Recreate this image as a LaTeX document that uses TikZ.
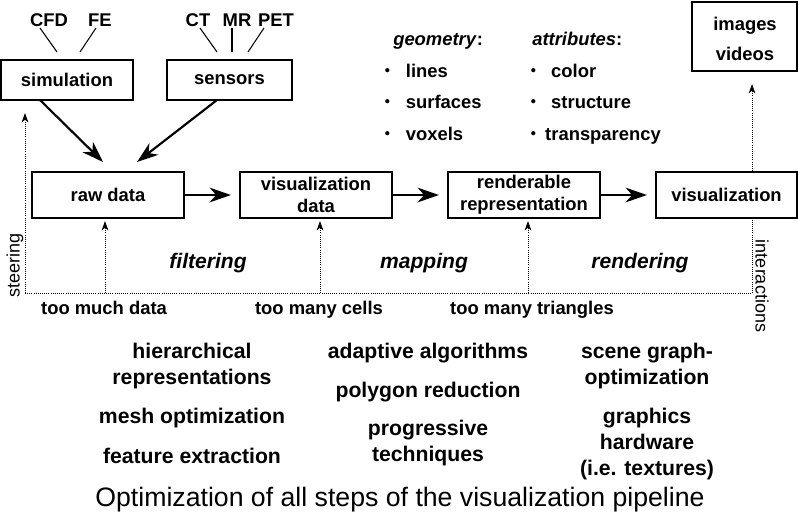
\documentclass[tikz,border=0pt]{standalone}
\usepackage{fontspec}
\setmainfont{Liberation Sans}
\usetikzlibrary{arrows.meta,calc}
\newcommand{\smallbul}{\raisebox{0.8pt}{\fontsize{11}{11}\selectfont •}}
\begin{document}
\begin{tikzpicture}[x=0.75pt,y=-0.75pt,
  box/.style={draw, line width=1.6pt, inner sep=0pt, font=\fontsize{13.8}{16.5}\selectfont\bfseries, align=center},
  lbl/.style={font=\fontsize{13.8}{16.5}\selectfont\bfseries, inner sep=0pt},
  stage/.style={font=\fontsize{15.8}{19}\selectfont\bfseries\itshape, inner sep=0pt},
  opt/.style={font=\fontsize{15.9}{19.5}\selectfont\bfseries, align=center, inner sep=0pt},
  side/.style={font=\fontsize{13.5}{16}\selectfont, inner sep=0pt},
  thin/.style={line width=0.8pt},
  big/.style={line width=1.6pt, -{Stealth[length=16pt,width=11pt,inset=5pt]}},
  dots/.style={line width=0.6pt, densely dotted},
  dotarrow/.style={dots, -{Stealth[length=7pt,width=5pt,inset=2pt]}}
]
\useasboundingbox (0,0) rectangle (798,512);

% boxes
\node[box, minimum width={132*0.75pt}, minimum height={40*0.75pt}] (sim) at (67,80) {simulation};
\node[box, minimum width={125*0.75pt}, minimum height={40*0.75pt}] (sens) at (229.5,80) {sensors};
\node[box, minimum width={152*0.75pt}, minimum height={46*0.75pt}] (raw) at (108,195) {raw data};
\node[box, minimum width={152*0.75pt}, minimum height={46*0.75pt}] (vdata) at (316,195) {visualization\\data};
\node[box, minimum width={152*0.75pt}, minimum height={46*0.75pt}] (rend) at (524,195) {renderable\\representation};
\node[box, minimum width={141*0.75pt}, minimum height={46*0.75pt}] (vis) at (726.5,195) {visualization};
\node[box, minimum width={105*0.75pt}, minimum height={69*0.75pt}] (img) at (744.5,36.5) {};
\node[lbl, anchor=base] (images) at (745,30) {images};
\node[lbl, anchor=base] (videos) at (745,60) {videos};

% sources
\node[lbl] (cfd) at (49,20) {CFD};
\node[lbl] (fe) at (100,20) {FE};
\node[lbl] (ct) at (198,20) {CT};
\node[lbl] (mr) at (237,20) {MR};
\node[lbl] (pet) at (276,20) {PET};
\coordinate (cfdA) at (40,28); \coordinate (cfdB) at (57,52);
\coordinate (feA) at (96,28); \coordinate (feB) at (80,52);
\coordinate (ctA) at (200,28); \coordinate (ctB) at (217,52);
\coordinate (mrA) at (232,28); \coordinate (mrB) at (232,52);
\coordinate (petA) at (264,28); \coordinate (petB) at (248,52);
\draw[thin] (cfdA) -- (cfdB);
\draw[thin] (feA) -- (feB);
\draw[thin] (ctA) -- (ctB);
\draw[thin] (mrA) -- (mrB);
\draw[thin] (petA) -- (petB);

% main arrows
\coordinate (simOut) at (40,100);
\coordinate (sensOut) at (217,100);
\coordinate (rawInL) at (103,162);
\coordinate (rawInR) at (137,162);
\draw[big] (simOut) -- (rawInL);
\draw[big] (sensOut) -- (rawInR);
\draw[big, shorten >=6pt] (raw) -- (vdata);
\draw[big, shorten >=6pt] (vdata) -- (rend);
\draw[big, shorten >=6pt] (rend) -- (vis);

% dotted feedback lines
\coordinate (bl) at (25,293);
\coordinate (br) at (752,293);
\draw[dotarrow, shorten >=9pt] (bl) -- (bl |- sim.south);
\draw[dots] (bl) -- (br);
\draw[dots] (br) -- (br |- vis.south);
\draw[dotarrow, shorten >=9pt] (br |- vis.north) -- (br |- img.south);
\coordinate (f1) at (105,293);
\coordinate (f2) at (320,293);
\coordinate (f3) at (528,293);
\draw[dotarrow, shorten >=1.5pt] (f1) -- (f1 |- raw.south);
\draw[dotarrow, shorten >=1.5pt] (f2) -- (f2 |- vdata.south);
\draw[dotarrow, shorten >=1.5pt] (f3) -- (f3 |- rend.south);

\node[side, rotate=90] (steer) at (15,265) {steering};
\node[side, rotate=-90] (inter) at (762,286) {interactions};

% stages
\node[stage] (filt) at (208,263) {filtering};
\node[stage] (mapp) at (424,263) {mapping};
\node[stage] (rendg) at (640,263) {rendering};

\node[lbl, anchor=base] (tm1) at (104,314) {too much data};
\node[lbl, anchor=base] (tm2) at (319,314) {too many cells};
\node[lbl, anchor=base] (tm3) at (532,314) {too many triangles};

% geometry / attributes
\node[lbl, anchor=base west] (geo) at (393,45) {\textit{geometry}:};
\node[lbl, anchor=base west] (g1) at (384.5,77) {\smallbul\hspace{12pt}lines};
\node[lbl, anchor=base west] (g2) at (384.5,108) {\smallbul\hspace{12pt}surfaces};
\node[lbl, anchor=base west] (g3) at (384.5,140) {\smallbul\hspace{12pt}voxels};
\node[lbl, anchor=base west] (att) at (532,45) {\textit{attributes}:};
\node[lbl, anchor=base west] (a1) at (530.5,77) {\smallbul\hspace{11.5pt}color};
\node[lbl, anchor=base west] (a2) at (530.5,108) {\smallbul\hspace{11.5pt}structure};
\node[lbl, anchor=base west] (a3) at (530.5,140) {\smallbul\hspace{7pt}transparency};

% optimizations
\node[opt] (o11) at (192,366) {hierarchical\\representations};
\node[opt] (o12) at (192,418) {mesh optimization};
\node[opt] (o13) at (192,456) {feature extraction};
\node[opt] (o21) at (428,353) {adaptive algorithms};
\node[opt] (o22) at (428,392) {polygon reduction};
\node[opt] (o23) at (428,443) {progressive\\techniques};
\node[opt] (o31) at (647,366) {scene graph-\\optimization};
\node[opt] (o32) at (647,444.5) {graphics\\hardware\\(i.e. textures)};

\node[font=\fontsize{20}{24}\selectfont, inner sep=0pt] (cap) at (400,500) {Optimization of all steps of the visualization pipeline};
\end{tikzpicture}
\end{document}
